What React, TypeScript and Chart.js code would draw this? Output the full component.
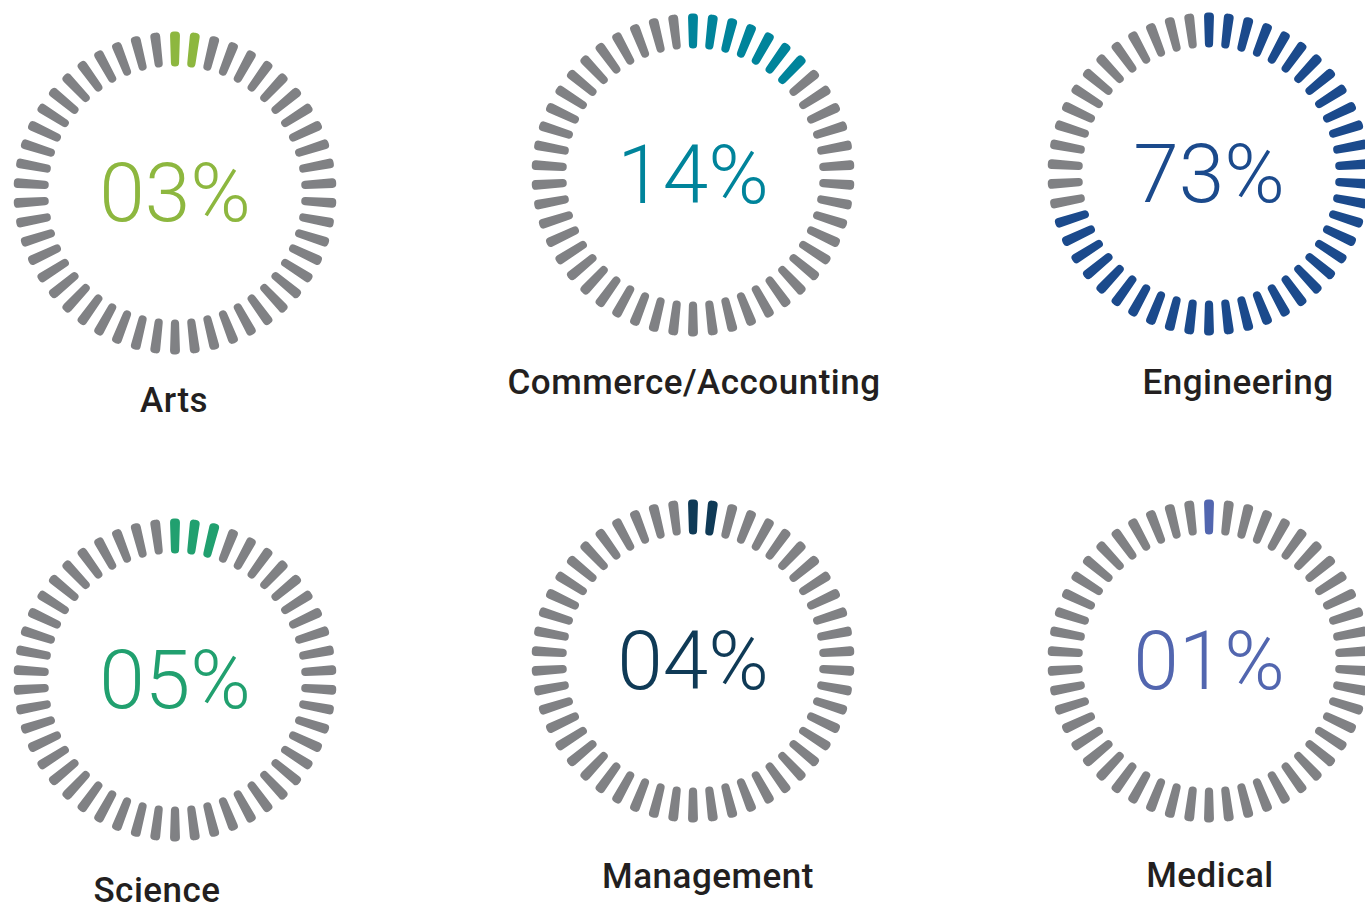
import React, { useEffect, useRef } from "react";
import { Chart, registerables } from "chart.js";

Chart.register(...registerables);

// ---- data ----
const categories = ["Arts", "Commerce/Accounting", "Engineering", "Science", "Management", "Medical"];
const percentValues = [3, 14, 73, 5, 4, 1];
// number of highlighted ticks visible on each gauge (out of 50)
const litTicks = [2, 7, 36, 3, 2, 1];
const accentColors = ["#8DB73F", "#00849B", "#1B4A8C", "#21A06F", "#0F3A56", "#5266AF"];

// ---- styling / layout constants ----
const TICK_COUNT = 50;
const TICK_SHARE = 0.5; // share of each 7.2° step filled by the tick
const GRAY = "#808184";
const LABEL_COLOR = "#231F20";
const OUTER_R = 161.5;
const INNER_R = 126.5;
const CANVAS = 340;

const LAYOUT = [
  { cx: 175, cy: 193, lx: 174, ly: 400 },
  { cx: 693, cy: 175, lx: 694, ly: 382 },
  { cx: 1209, cy: 174, lx: 1238, ly: 382 },
  { cx: 175, cy: 680, lx: 157, ly: 890 },
  { cx: 693, cy: 661, lx: 708, ly: 876 },
  { cx: 1209, cy: 661, lx: 1210, ly: 875 },
];

function Gauge({ idx }: { idx: number }) {
  const ref = useRef<HTMLCanvasElement | null>(null);
  useEffect(() => {
    if (!ref.current) return;
    const lit = litTicks[idx];
    const data: number[] = [];
    const colors: string[] = [];
    const labels: string[] = [];
    for (let i = 0; i < TICK_COUNT; i++) {
      data.push(TICK_SHARE, 1 - TICK_SHARE);
      colors.push(i < lit ? accentColors[idx] : GRAY, "rgba(0,0,0,0)");
      labels.push("tick " + (i + 1), "gap " + (i + 1));
    }
    const chart = new Chart(ref.current, {
      type: "doughnut",
      data: {
        labels,
        datasets: [
          {
            data,
            backgroundColor: colors,
            borderWidth: 0,
            borderRadius: 4,
            hoverOffset: 0,
          },
        ],
      },
      options: {
        responsive: false,
        animation: false,
        events: [],
        rotation: -((360 / TICK_COUNT) * TICK_SHARE) / 2,
        radius: OUTER_R,
        cutout: (INNER_R / OUTER_R) * 100 + "%",
        layout: { padding: 0 },
        plugins: {
          legend: { display: false },
          tooltip: { enabled: false },
          title: { display: false },
        },
      } as any,
    });
    return () => chart.destroy();
  }, [idx]);

  const { cx, cy, lx, ly } = LAYOUT[idx];
  const pct = String(percentValues[idx]).padStart(2, "0") + "%";
  return (
    <>
      <canvas
        ref={ref}
        width={CANVAS}
        height={CANVAS}
        style={{
          position: "absolute",
          left: cx - CANVAS / 2,
          top: cy - CANVAS / 2,
          width: CANVAS,
          height: CANVAS,
        }}
      />
      <div
        style={{
          position: "absolute",
          left: cx,
          top: cy,
          transform: "translate(-50%, -50%)",
          fontFamily: "Roboto, 'Noto Sans', sans-serif",
          fontWeight: 300,
          fontSize: 82,
          lineHeight: 1,
          color: accentColors[idx],
          whiteSpace: "nowrap",
        }}
      >
        {pct}
      </div>
      <div
        style={{
          position: "absolute",
          left: lx,
          top: ly,
          transform: "translate(-50%, -50%)",
          fontFamily: "Roboto, 'Noto Sans', sans-serif",
          fontWeight: 500,
          fontSize: 35,
          letterSpacing: 0.5,
          lineHeight: 1,
          color: LABEL_COLOR,
          whiteSpace: "nowrap",
        }}
      >
        {categories[idx]}
      </div>
    </>
  );
}

export default function App() {
  return (
    <div
      style={{
        position: "absolute",
        left: 0,
        top: 0,
        width: 1365,
        height: 908,
        overflow: "hidden",
        background: "#ffffff",
      }}
    >
      {categories.map((_, i) => (
        <Gauge key={i} idx={i} />
      ))}
    </div>
  );
}
